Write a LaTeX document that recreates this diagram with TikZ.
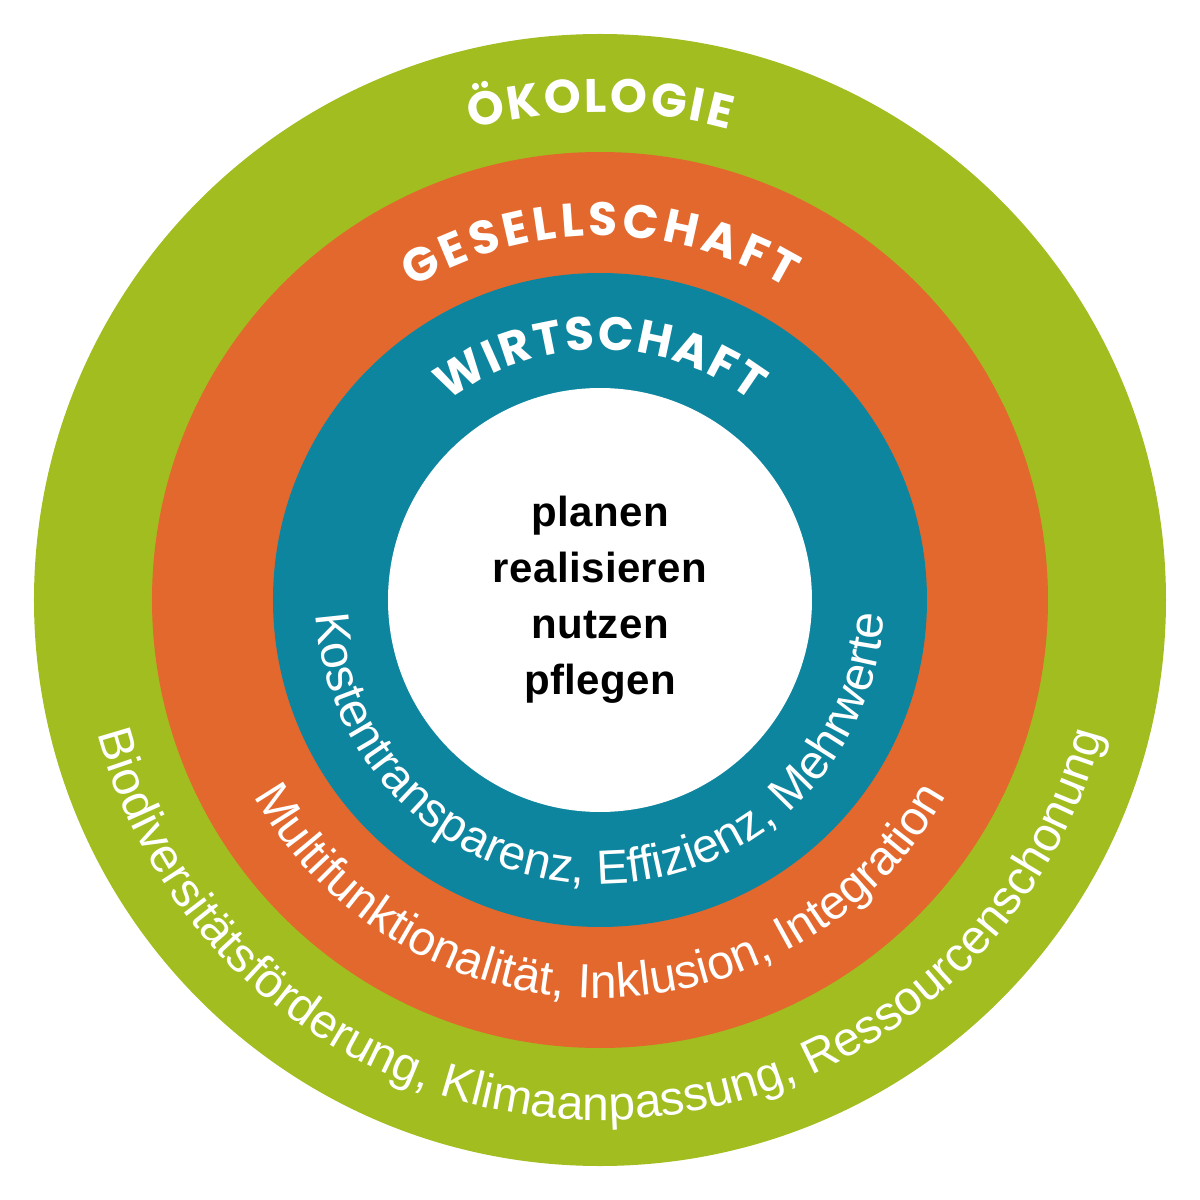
\documentclass[tikz,border=0pt]{standalone}
\usepackage{fontspec}
\usetikzlibrary{decorations.text}

\newfontfamily\capsfont{Poppins}
\newfontfamily\ringfont{Liberation Sans}
\newfontfamily\tasksfont{Liberation Sans}[LetterSpace=1]

\definecolor{oekogreen}{HTML}{A1BD1F}
\definecolor{socorange}{HTML}{E3682D}
\definecolor{econteal}{HTML}{0D859F}

\tikzset{
  captext/.style={decorate, decoration={text along path, text align=fit to path,
      text color=white, text={|\capsfont\bfseries\fontsize{47}{47}\selectfont|#1}}},
  ringtext/.style={decorate, decoration={text along path, text align=center,
      text color=white, text={|\ringfont\fontsize{48}{48}\selectfont|#1}}},
}

\begin{document}
\begin{tikzpicture}[x=1pt, y=1pt]
        \useasboundingbox (-600,-600) rectangle (600,600);
        \fill[oekogreen] (0,0) circle[radius=566];
        \fill[socorange] (0,0) circle[radius=448];
        \fill[econteal] (0,0) circle[radius=327];
        \fill[white] (0,0) circle[radius=212];

        \path[captext=ÖKOLOGIE] (105.3:488) arc[start angle=105.3, end angle=74.7, radius=488];
        \path[captext=GESELLSCHAFT] (121:364) arc[start angle=121, end angle=59, radius=364];
        \path[captext=WIRTSCHAFT] (127.5:250) arc[start angle=127.5, end angle=52.5, radius=250];

        \path[ringtext={Kostentransparenz, Effizienz, Mehrwerte}] (180:284) arc[start angle=180, end angle=360, radius=284];
        \path[ringtext={Multifunktionalität, Inklusion, Integration}] (208:398) arc[start angle=208, end angle=332, radius=398];
        \path[ringtext={Biodiversitätsförderung, Klimaanpassung, Ressourcenschonung}] (193:520) arc[start angle=193, end angle=347, radius=520];

        \node[font=\tasksfont\bfseries\fontsize{42}{56}\selectfont, align=center] (tasks) at (0,0) {planen\\realisieren\\nutzen\\pflegen};
    \end{tikzpicture}
\end{document}
